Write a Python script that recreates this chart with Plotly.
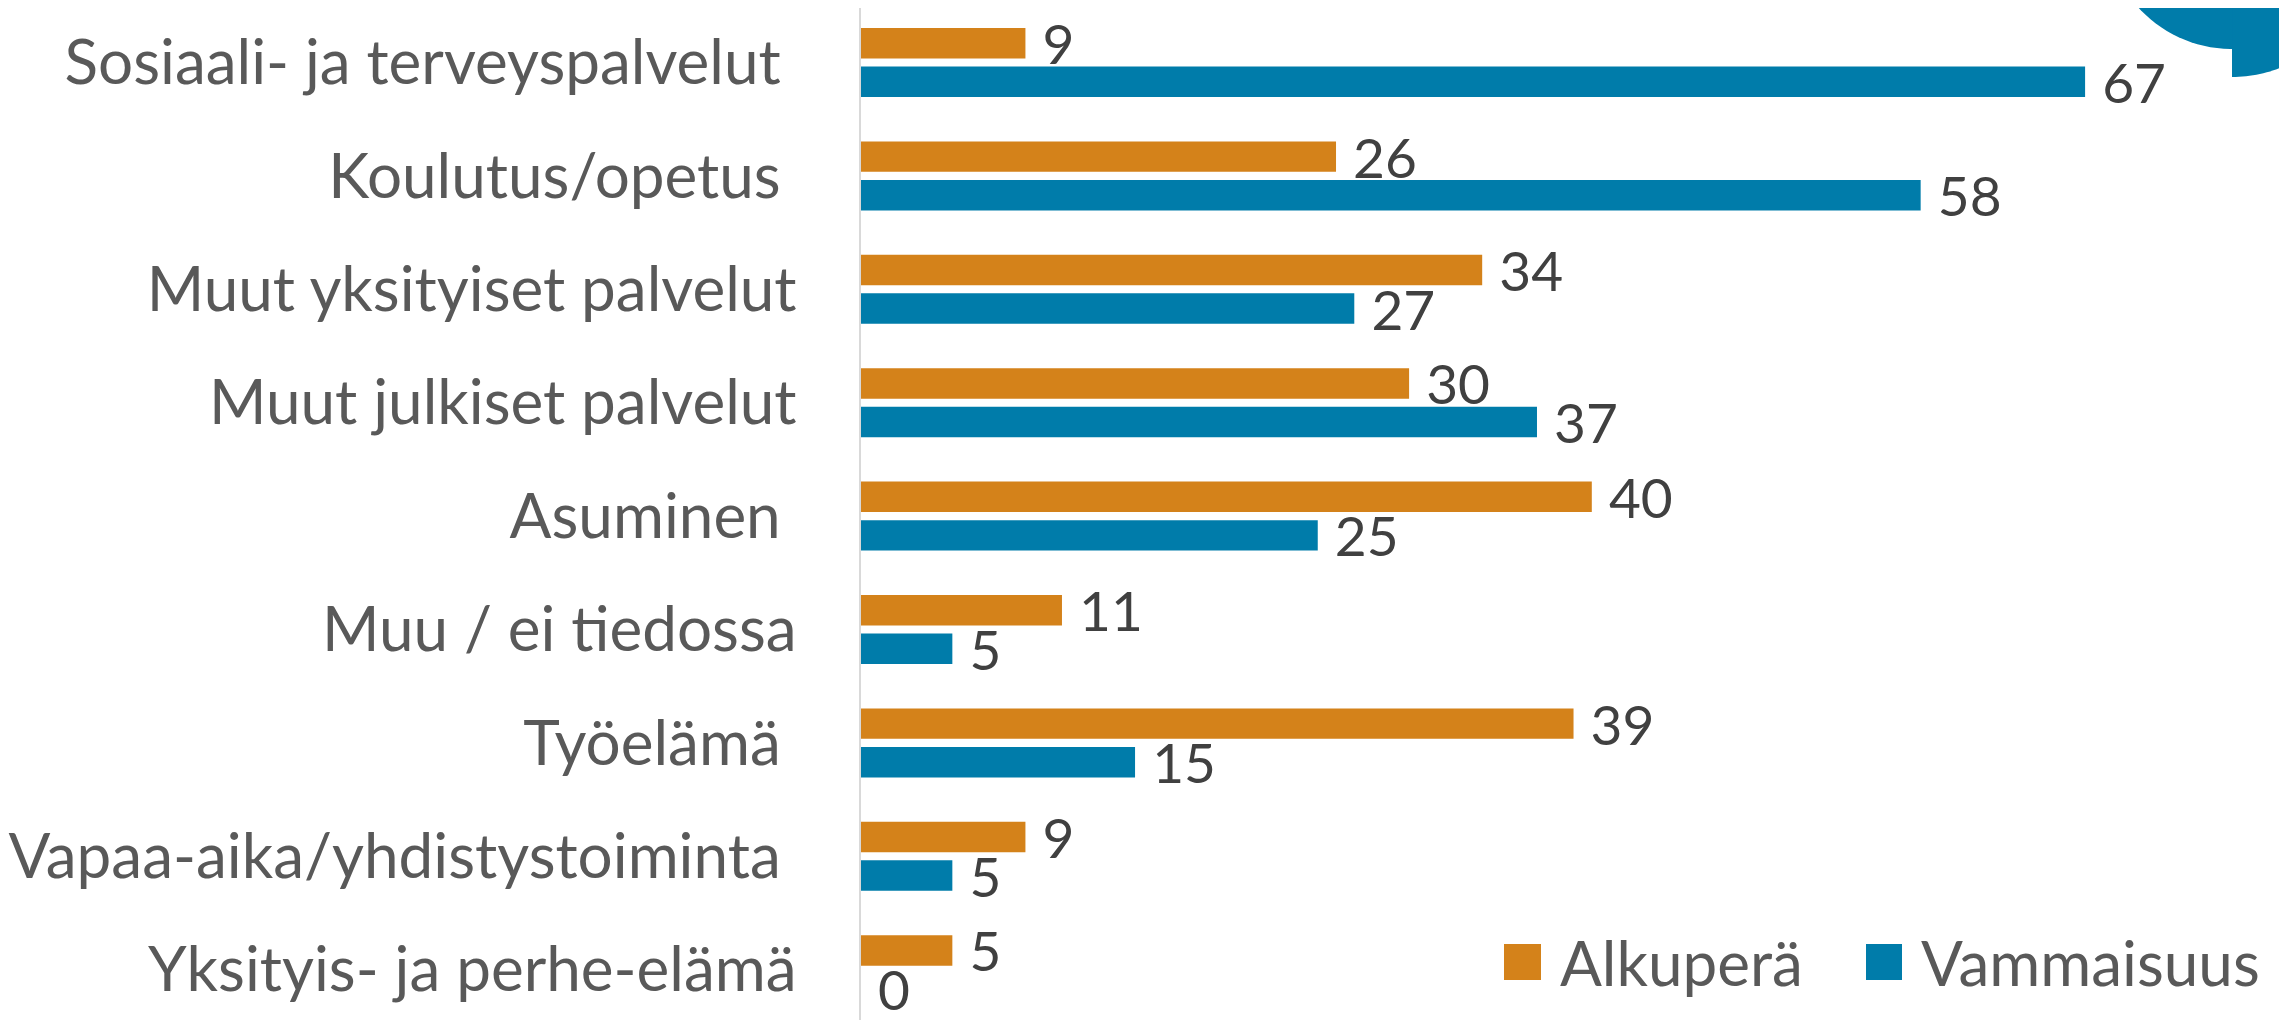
import numpy as np
import plotly.graph_objects as go

# ---- data ----
categories = [
    "Sosiaali- ja terveyspalvelut ",
    "Koulutus/opetus ",
    "Muut yksityiset palvelut",
    "Muut julkiset palvelut",
    "Asuminen ",
    "Muu / ei tiedossa",
    "Työelämä ",
    "Vapaa-aika/yhdistystoiminta ",
    "Yksityis- ja perhe-elämä",
]
alkupera = [9, 26, 34, 30, 40, 11, 39, 9, 5]
vammaisuus = [67, 58, 27, 37, 25, 5, 15, 5, 0]
series_names = ["Alkuperä", "Vammaisuus"]
series_colors = ["#D4821A", "#007CAA"]

# ---- layout geometry (page pixels; the html body has an 8px margin) ----
OFF = 8
W, H = 2287, 1020
AXIS_X = 861          # page x of the value axis
ML, MR, MT, MB = AXIS_X - OFF, 0, 0, 0
PW, PH = W - ML - MR, H - MT - MB
UNIT = 18.27          # px per value unit
PITCH = 113.4         # px per category
FIRST_CENTER = 62.5   # page y of first category centre

FONT = "Lato, 'Source Sans Pro', sans-serif"


def px(x):
    return (x - OFF - ML) / PW


def py(y):
    return (H - MB - (y - OFF)) / PH


fig = go.Figure()
for name, vals, col in zip(series_names, [alkupera, vammaisuus], series_colors):
    fig.add_trace(go.Bar(
        y=categories, x=vals, name=name, orientation="h",
        marker=dict(color=col, line=dict(width=0)),
        text=vals, texttemplate=" %{x}", textposition="outside",
        constraintext="none", cliponaxis=False,
        textfont=dict(family=FONT, size=55, color="#404040"),
        showlegend=False,
    ))

shapes = []
annotations = []
# custom legend (large square swatches)
legend_items = [(1504, 1541, 1558), (1866, 1902, 1919)]
for (sx0, sx1, tx), name, col in zip(legend_items, series_names, series_colors):
    shapes.append(dict(type="rect", xref="paper", yref="paper",
                       x0=px(sx0), x1=px(sx1), y0=py(980), y1=py(944),
                       fillcolor=col, line=dict(width=0)))
    annotations.append(dict(xref="paper", yref="paper", x=px(tx), y=py(962),
                            xanchor="left", yanchor="middle", showarrow=False,
                            text=name,
                            font=dict(family=FONT, size=62, color="#595959")))

# decorative blue shape in the top-right corner
t = np.linspace(0, 2 * np.pi, 120)
cx, cy, r = 2232, -77.5, 126.5
pts = [(cx + r * np.cos(a), cy + r * np.sin(a)) for a in t]
path = "M " + " L ".join(f"{px(x):.5f},{py(y):.5f}" for x, y in pts) + " Z"
shapes.append(dict(type="path", xref="paper", yref="paper", path=path,
                   fillcolor="#007CAA", line=dict(width=0)))
cx2, cy2, r2 = 2232, -55, 132
t2 = np.linspace(0, np.pi / 2, 60)
pts2 = [(cx2, cy2)] + [(cx2 + r2 * np.cos(a), cy2 + r2 * np.sin(a)) for a in t2[::-1]]
path2 = "M " + " L ".join(f"{px(x):.5f},{py(y):.5f}" for x, y in pts2) + " Z"
shapes.append(dict(type="path", xref="paper", yref="paper", path=path2,
                   fillcolor="#007CAA", line=dict(width=0)))

top_units = (FIRST_CENTER - OFF - MT) / PITCH
fig.update_layout(
    width=W, height=H,
    margin=dict(l=ML, r=MR, t=MT, b=MB, pad=0),
    paper_bgcolor="white", plot_bgcolor="white",
    barmode="group", bargap=0.32, bargroupgap=0.21,
    showlegend=False,
    shapes=shapes, annotations=annotations,
    xaxis=dict(range=[0, PW / UNIT], visible=False, fixedrange=True),
    yaxis=dict(
        type="category", categoryorder="array", categoryarray=categories,
        range=[-top_units + PH / PITCH, -top_units],
        showline=True, linecolor="#D9D9D9", linewidth=2,
        showgrid=False, zeroline=False, ticks="",
        ticklabelstandoff=50, automargin=False,
        tickfont=dict(family=FONT, size=62, color="#595959"),
    ),
    font=dict(family=FONT),
)

fig.write_html("out.html")
